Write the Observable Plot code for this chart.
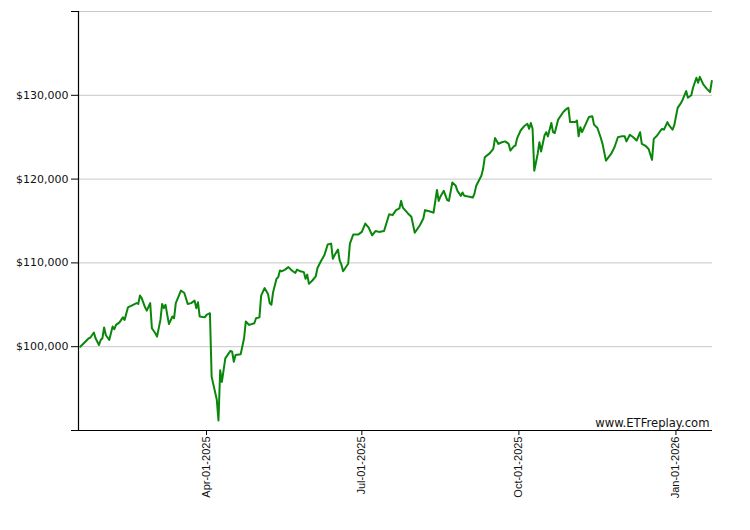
<!DOCTYPE html>
<html>
<head>
<meta charset="utf-8">
<script src="https://cdn.jsdelivr.net/npm/d3@7"></script>
<script src="https://cdn.jsdelivr.net/npm/@observablehq/plot@0.6"></script>
<style>
  html, body { margin: 0; padding: 0; background: #fff; }
  #chart svg { display: block; }
</style>
</head>
<body>
<div id="chart"></div>
<script>
const dates = [
  "2025-01-17","2025-01-20","2025-01-22","2025-01-23","2025-01-25","2025-01-26","2025-01-28","2025-01-29","2025-01-30","2025-01-31",
  "2025-02-01","2025-02-03","2025-02-05","2025-02-06","2025-02-07","2025-02-09","2025-02-11","2025-02-12","2025-02-14","2025-02-17",
  "2025-02-19","2025-02-20","2025-02-21","2025-02-22","2025-02-24","2025-02-25","2025-02-27","2025-02-28","2025-03-02","2025-03-03",
  "2025-03-05","2025-03-06","2025-03-07","2025-03-08","2025-03-09","2025-03-10","2025-03-12","2025-03-13","2025-03-14","2025-03-17",
  "2025-03-19","2025-03-21","2025-03-23","2025-03-25","2025-03-26","2025-03-27","2025-03-28","2025-03-31","2025-04-01","2025-04-03",
  "2025-04-04","2025-04-07","2025-04-08","2025-04-09","2025-04-10","2025-04-12","2025-04-13","2025-04-15","2025-04-16","2025-04-17",
  "2025-04-18","2025-04-21","2025-04-23","2025-04-24","2025-04-26","2025-04-29","2025-04-30","2025-05-02","2025-05-03","2025-05-05",
  "2025-05-07","2025-05-08","2025-05-09","2025-05-10","2025-05-12","2025-05-13","2025-05-14","2025-05-15","2025-05-17","2025-05-19",
  "2025-05-21","2025-05-23","2025-05-24","2025-05-26","2025-05-28","2025-05-29","2025-05-30","2025-05-31","2025-06-02","2025-06-04",
  "2025-06-05","2025-06-07","2025-06-09","2025-06-11","2025-06-13","2025-06-14","2025-06-15","2025-06-17","2025-06-18","2025-06-19",
  "2025-06-20","2025-06-23","2025-06-24","2025-06-26","2025-06-29","2025-07-01","2025-07-03","2025-07-05","2025-07-07","2025-07-09",
  "2025-07-11","2025-07-14","2025-07-17","2025-07-19","2025-07-21","2025-07-23","2025-07-24","2025-07-25","2025-07-28","2025-07-30",
  "2025-08-01","2025-08-04","2025-08-06","2025-08-07","2025-08-09","2025-08-12","2025-08-14","2025-08-15","2025-08-16","2025-08-18",
  "2025-08-20","2025-08-21","2025-08-23","2025-08-25","2025-08-26","2025-08-28","2025-08-29","2025-08-30","2025-09-02","2025-09-04",
  "2025-09-05","2025-09-06","2025-09-09","2025-09-10","2025-09-11","2025-09-14","2025-09-16","2025-09-17","2025-09-19","2025-09-21",
  "2025-09-23","2025-09-25","2025-09-26","2025-09-28","2025-09-29","2025-09-30","2025-10-02","2025-10-04","2025-10-06","2025-10-07",
  "2025-10-08","2025-10-09","2025-10-10","2025-10-12","2025-10-13","2025-10-14","2025-10-16","2025-10-17","2025-10-18","2025-10-20",
  "2025-10-21","2025-10-22","2025-10-24","2025-10-27","2025-10-29","2025-10-30","2025-10-31","2025-11-03","2025-11-04","2025-11-05",
  "2025-11-06","2025-11-07","2025-11-09","2025-11-11","2025-11-13","2025-11-14","2025-11-16","2025-11-18","2025-11-19","2025-11-21",
  "2025-11-24","2025-11-26","2025-11-28","2025-11-30","2025-12-02","2025-12-03","2025-12-05","2025-12-07","2025-12-09","2025-12-11",
  "2025-12-12","2025-12-14","2025-12-16","2025-12-18","2025-12-19","2025-12-21","2025-12-23","2025-12-24","2025-12-25","2025-12-27",
  "2025-12-28","2025-12-30","2025-12-31","2026-01-02","2026-01-04","2026-01-05","2026-01-07","2026-01-08","2026-01-10","2026-01-11",
  "2026-01-13","2026-01-14","2026-01-15","2026-01-17","2026-01-19","2026-01-21","2026-01-22"
];
const values = [
  100000,100600,101000,101100,101700,101000,100200,100800,101000,102300,
  101400,100800,102400,102100,102600,102900,103500,103200,104700,105000,
  105200,105100,106100,105800,104700,104300,105200,102200,101600,101200,
  103200,105100,104600,105000,103800,102700,103600,103400,105200,106700,
  106400,105100,105200,105500,104600,105300,103600,103500,103800,104000,
  96400,93700,91200,97200,95800,98600,98900,99500,99400,98200,
  99000,99100,101000,103000,102600,102800,103400,103500,106100,107000,
  106300,105200,105000,106500,108100,108300,109100,109000,109200,109500,
  109100,108800,109200,109000,108900,108100,108600,107500,107900,108400,
  109400,110200,110900,112200,112300,110500,110900,111600,110300,109800,
  109000,109900,112300,113400,113400,113700,114700,114200,113300,113800,
  113700,113800,115800,115700,116300,116500,117400,116600,115900,115500,
  113600,114500,115300,116300,116200,116000,118700,117400,117900,118600,
  117500,117400,119600,119200,118600,118000,118400,118000,117900,117800,
  118300,119200,120400,121200,122600,123100,123600,124900,124200,124400,
  124500,124200,123400,123900,124000,124900,125800,126300,126600,126000,
  126700,126000,121000,123000,124400,123300,125200,125600,125100,126700,
  125600,125500,127100,128000,128400,128500,126800,126800,127000,125100,
  126200,125600,126500,127400,127500,126500,126100,124900,124200,122200,
  123000,123800,125000,125100,125100,124500,125300,125000,124600,125600,
  124200,124000,123600,122300,124800,125200,125800,126000,125900,126800,
  126400,125900,126400,128500,129100,129500,130500,129700,130000,130900,
  132100,131500,132200,131300,130800,130400,131700
];
const yTicks = [90000, 100000, 110000, 120000, 130000, 140000];
const xTicks = ["2025-04-01", "2025-07-01", "2025-10-01", "2026-01-01"];
const xDomain = ["2025-01-16T00:00Z", "2026-01-22T10:00Z"];
const watermark = ["www.ETFreplay.com"];

const data = dates.map((d, i) => ({date: new Date(d + "T00:00Z"), value: values[i]}));
const fmtMoney = d3.format(",");
const fmtDate = d3.utcFormat("%b-%d-%Y");
const x0 = new Date(xDomain[0]);

const chart = Plot.plot({
  width: 750,
  height: 530,
  marginLeft: 78,
  marginRight: 38,
  marginTop: 11,
  marginBottom: 100,
  style: {fontFamily: "DejaVu Sans, Verdana, sans-serif", fontSize: "11px", color: "#111", background: "#fff"},
  x: {type: "utc", domain: xDomain.map(d => new Date(d))},
  y: {domain: [yTicks[0], yTicks[yTicks.length - 1]]},
  marks: [
    Plot.ruleY(yTicks.slice(1), {stroke: "#c8c8c8", strokeWidth: 1, strokeOpacity: 1}),
    Plot.axisY({
      ticks: yTicks, tickSize: 7, tickPadding: 3, label: null,
      tickFormat: d => (d === yTicks[0] || d === yTicks[yTicks.length - 1]) ? "" : "$" + fmtMoney(d),
      stroke: "#000", strokeOpacity: 1, fill: "#111"
    }),
    Plot.axisX({
      ticks: xTicks.map(d => new Date(d + "T00:00Z")), tickSize: 5, tickPadding: 1,
      tickRotate: -90, tickFormat: fmtDate, label: null,
      fontFamily: "Liberation Sans, Arial, sans-serif", fontSize: 11,
      stroke: "#000", strokeOpacity: 1, fill: "#111"
    }),
    Plot.ruleY([yTicks[0]], {stroke: "#000", strokeWidth: 1.2}),
    Plot.ruleX([x0], {stroke: "#000", strokeWidth: 1.2}),
    Plot.lineY(data, {x: "date", y: "value", stroke: "#0a870a", strokeWidth: 2, curve: "linear"}),
    Plot.text(watermark, {
      frameAnchor: "bottom-right", textAnchor: "end", lineAnchor: "bottom",
      dx: -3, dy: -4, fill: "#111", fontSize: 11.6
    })
  ]
});
document.getElementById("chart").appendChild(chart);
</script>
</body>
</html>
